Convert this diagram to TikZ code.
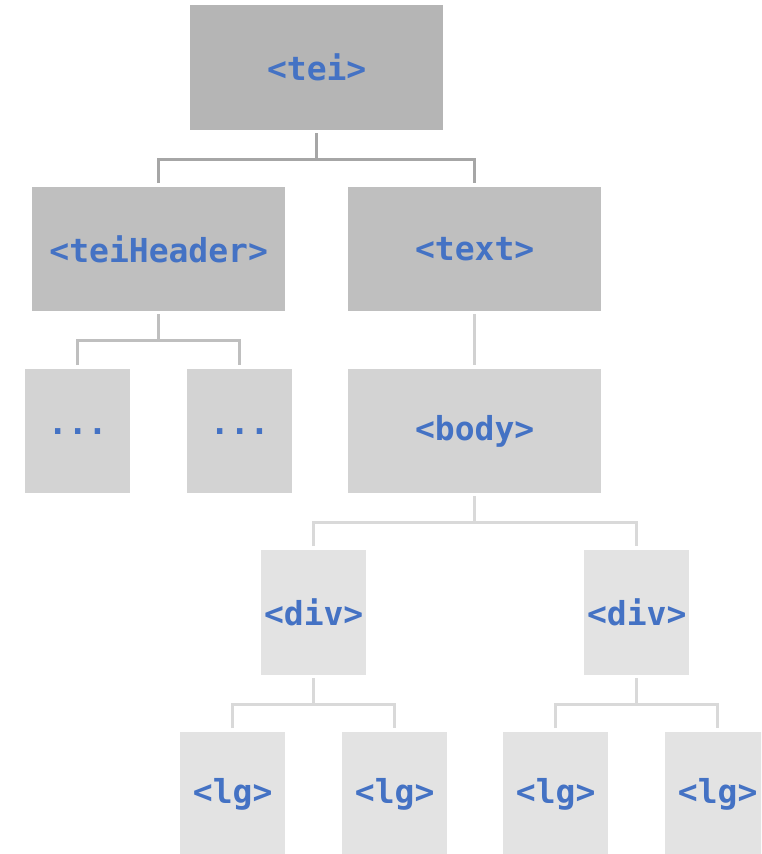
\documentclass[tikz,border=0pt]{standalone}
\usepackage{fontspec}
\setmonofont{DejaVu Sans Mono}
\usetikzlibrary{positioning,calc}
\definecolor{tagblue}{HTML}{4472C4}
\definecolor{lvlA}{HTML}{B5B5B5}
\definecolor{lvlB}{HTML}{BFBFBF}
\definecolor{lvlC}{HTML}{D3D3D3}
\definecolor{lvlD}{HTML}{E3E3E3}
\tikzset{tagbox/.style={rectangle, inner sep=0pt, anchor=north west, minimum width=105pt, minimum height=125pt, text=tagblue, font=\ttfamily\bfseries\fontsize{33}{36}\selectfont}}
\tikzset{widebox/.style={tagbox, minimum width=253pt}}
\tikzset{fork/.style={draw, line width=2.8pt, shorten <=3pt, shorten >=4pt}}
\newcommand\forkarr[4][]{
			\coordinate (#2-fork) at ($(#2.south)+(0,-29)$);
			\draw[fork, #1, shorten >=0pt] (#2.south) -- (#2-fork);
			\draw[fork, #1, shorten <=4pt] (#3.north) |- (#2-fork) -| (#4.north);
			}

\begin{document}
\begin{tikzpicture}[x=1pt, y=1pt]
		\useasboundingbox (0,0) rectangle (761,-854);
		\clip (0,0) rectangle (761,-854);
		\node[widebox, fill=lvlA, minimum height=125pt] (tei) at (190,-5) {<tei>};
		\node[widebox, fill=lvlB, minimum height=124pt] (header) at (32,-187) {<teiHeader>};
		\node[widebox, fill=lvlB, minimum height=124pt] (text) at (348,-187) {<text>};
		\node[tagbox, fill=lvlC, minimum height=124pt] (dotsA) at (25,-369) {...};
		\node[tagbox, fill=lvlC, minimum height=124pt] (dotsB) at (187,-369) {...};
		\node[widebox, fill=lvlC, minimum height=124pt] (body) at (348,-369) {<body>};
		\node[tagbox, fill=lvlD] (divA) at (261,-550) {<div>};
		\node[tagbox, fill=lvlD] (divB) at (584,-550) {<div>};
		\node[tagbox, fill=lvlD] (lgA) at (180,-732) {<lg>};
		\node[tagbox, fill=lvlD] (lgB) at (342,-732) {<lg>};
		\node[tagbox, fill=lvlD] (lgC) at (503,-732) {<lg>};
		\node[tagbox, fill=lvlD] (lgD) at (665,-732) {<lg>};
		% connectors, lighter further down the tree
		\forkarr[draw=black!35] {tei}{header}{text}
		\forkarr[draw=black!25] {header}{dotsA}{dotsB}
		\draw[fork, draw=black!18] (text) -- (body);
		\forkarr[draw=black!15] {body}{divA}{divB}
		\forkarr[draw=black!15] {divA}{lgA}{lgB}
		\forkarr[draw=black!15] {divB}{lgC}{lgD}
	\end{tikzpicture}
\end{document}
